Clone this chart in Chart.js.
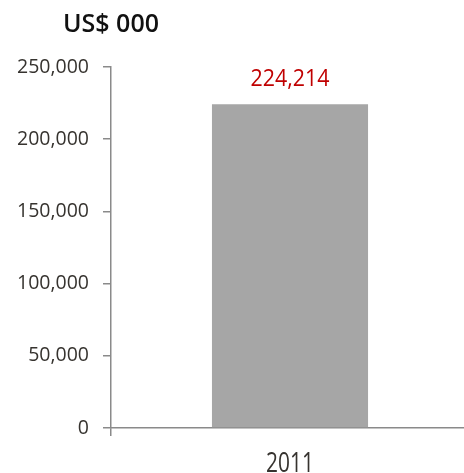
<!DOCTYPE html>
<html>
<head>
<meta charset="utf-8">
<script src="https://cdn.jsdelivr.net/npm/chart.js@4/dist/chart.umd.min.js"></script>
<style>
  html, body { margin: 0; padding: 0; background: #fff; }
  #wrap { position: relative; width: 464px; height: 473px; overflow: hidden; }
  #c { display: block; }
</style>
</head>
<body>
<div id="wrap"><canvas id="c" width="469" height="473"></canvas></div>
<script>
// Annual figure, in thousands of US dollars
const categories = ['2011'];
const values = [224214];
const yTicks = [0, 50000, 100000, 150000, 200000, 250000];
const unitTitle = 'US$ 000';

const AXIS = '#8a8a8a';
const TEXT = '#36332f';
const fmt = v => v.toLocaleString('en-US');

// Draw text squeezed horizontally to get a narrow face
function narrowText(ctx, text, x, y, size, squeeze, color) {
  ctx.save();
  ctx.font = size + 'px "Open Sans"';
  ctx.fillStyle = color;
  ctx.textAlign = 'center';
  ctx.textBaseline = 'alphabetic';
  ctx.translate(x, y);
  ctx.scale(squeeze, 1);
  ctx.fillText(text, 0, 0);
  ctx.restore();
}

// Unit caption above the value axis
const unitCaption = {
  id: 'unitCaption',
  afterDraw(chart) {
    const ctx = chart.ctx;
    ctx.save();
    ctx.font = '600 25px "Open Sans"';
    ctx.fillStyle = '#111';
    ctx.textAlign = 'left';
    ctx.textBaseline = 'middle';
    ctx.fillText(unitTitle, 63, 25);
    ctx.restore();
  }
};

// Category names under the x axis and values above each bar
const narrowLabels = {
  id: 'narrowLabels',
  afterDatasetsDraw(chart) {
    const ctx = chart.ctx;
    const xScale = chart.scales.x;
    categories.forEach((c, i) => {
      narrowText(ctx, c, xScale.getPixelForTick(i), xScale.top + 44, 26.5, 0.79, TEXT);
    });
    const meta = chart.getDatasetMeta(0);
    meta.data.forEach((bar, i) => {
      narrowText(ctx, fmt(values[i]), bar.x, bar.y - 18, 23.5, 0.91, '#c00000');
    });
  }
};

new Chart(document.getElementById('c'), {
  type: 'bar',
  data: {
    labels: categories,
    datasets: [{
      data: values,
      backgroundColor: '#a6a6a6',
      borderWidth: 0,
      barPercentage: 0.436,
      categoryPercentage: 1
    }]
  },
  options: {
    responsive: false,
    animation: false,
    layout: { padding: { top: 67, left: 0, right: 0, bottom: 0 } },
    plugins: {
      legend: { display: false },
      tooltip: { enabled: false }
    },
    scales: {
      x: {
        offset: true,
        afterFit: scale => { scale.height = 45; },
        border: { display: true, color: AXIS, width: 1.5 },
        grid: {
          drawOnChartArea: false,
          drawTicks: true,
          tickLength: 8,
          color: ctx => (ctx.index === 0 ? AXIS : 'rgba(0,0,0,0)'),
          lineWidth: 1.5
        },
        ticks: {
          color: 'rgba(0,0,0,0)',
          font: { family: '"Open Sans"', size: 20 },
          padding: 10
        }
      },
      y: {
        min: 0,
        max: 250000,
        afterBuildTicks: scale => { scale.ticks = yTicks.map(v => ({ value: v })); },
        afterFit: scale => { scale.width = 111; },
        border: { display: true, color: AXIS, width: 1.5 },
        grid: {
          drawOnChartArea: false,
          drawTicks: true,
          tickLength: 8,
          color: AXIS,
          lineWidth: 1.5
        },
        ticks: {
          color: TEXT,
          font: { family: '"Open Sans"', size: 19.5 },
          padding: 14,
          callback: v => fmt(v)
        }
      }
    }
  },
  plugins: [unitCaption, narrowLabels]
});
</script>
</body>
</html>
